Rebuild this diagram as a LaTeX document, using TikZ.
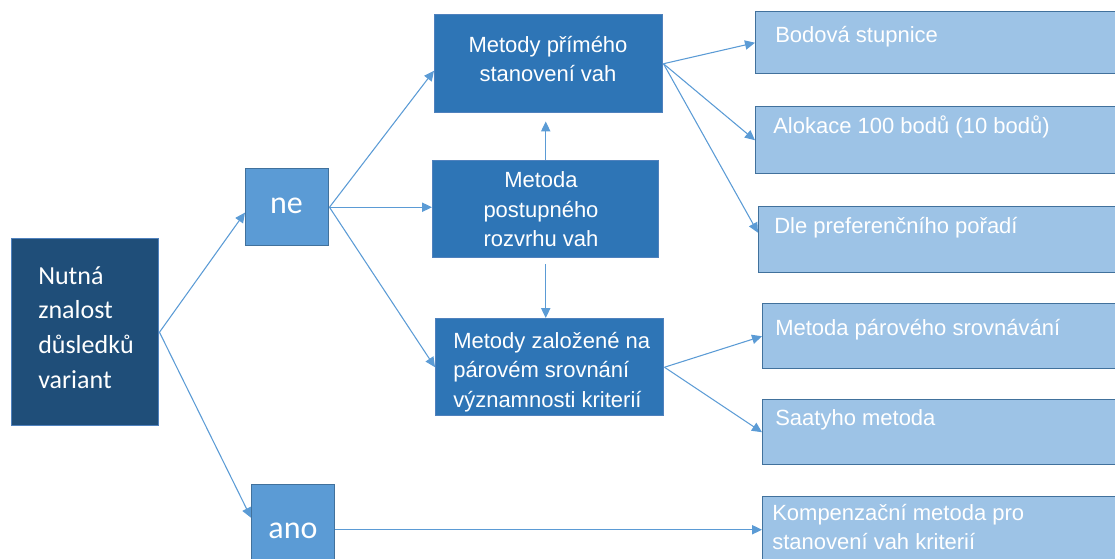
\documentclass[tikz,border=0pt]{standalone}
\usepackage{fontspec}
\setmainfont{Liberation Sans}
\newfontfamily\calfont{Carlito}
\usetikzlibrary{arrows.meta,calc}
\definecolor{dkblue}{HTML}{1F4E79}
\definecolor{midblue}{HTML}{2E75B6}
\definecolor{ltblue}{HTML}{5B9BD5}
\definecolor{paleblue}{HTML}{9DC3E6}
\definecolor{edgeA}{HTML}{41719C}
\definecolor{edgeB}{HTML}{4F81BD}
\definecolor{arrowblue}{HTML}{5B9BD5}
\begin{document}
\begin{tikzpicture}[x=0.75pt,y=-0.75pt,
  box/.style={rectangle, inner sep=0pt, anchor=north west, line width=1.1pt},
  dkbox/.style={box, fill=dkblue, draw=edgeB},
  midbox/.style={box, fill=midblue, draw=edgeB},
  ltbox/.style={box, fill=ltblue, draw=edgeA},
  palebox/.style={box, fill=paleblue, draw=edgeA},
  txt/.style={inner sep=0pt, text=white, font=\fontsize{16.5}{22.1}\selectfont},
  caltxt/.style={inner sep=0pt, text=white},
  arr/.style={draw=arrowblue, line width=0.8pt, -{Triangle[length=7.5pt,width=7pt]}}
]
\useasboundingbox (0,0) rectangle (1115,558);
\clip (0,0) rectangle (1115,558);

% boxes
\node[dkbox, minimum width=147*0.75pt, minimum height=187*0.75pt] (nut) at (11,238) {};
\node[ltbox, minimum width=83*0.75pt, minimum height=77*0.75pt] (ne) at (245,168) {};
\node[ltbox, minimum width=83*0.75pt, minimum height=90*0.75pt] (ano) at (251,484) {};
\node[midbox, minimum width=228*0.75pt, minimum height=98*0.75pt] (prime) at (434,14) {};
\node[midbox, minimum width=226*0.75pt, minimum height=97*0.75pt] (post) at (432,160) {};
\node[midbox, minimum width=228*0.75pt, minimum height=97*0.75pt] (zal) at (435,318) {};
\node[palebox, minimum width=380*0.75pt, minimum height=62*0.75pt] (bod) at (755,11) {};
\node[palebox, minimum width=380*0.75pt, minimum height=67*0.75pt] (alo) at (755,106) {};
\node[palebox, minimum width=380*0.75pt, minimum height=66*0.75pt] (dle) at (758,206) {};
\node[palebox, minimum width=380*0.75pt, minimum height=65*0.75pt] (par) at (762,303) {};
\node[palebox, minimum width=380*0.75pt, minimum height=65*0.75pt] (saa) at (762,399) {};
\node[palebox, minimum width=380*0.75pt, minimum height=80*0.75pt] (komp) at (762,496) {};

% texts
\node[caltxt, anchor=north west, align=left, font=\calfont\fontsize{19.5}{26}\selectfont] (nutT) at (38,266) {Nutná\\znalost\\důsledků\\variant};
\node[caltxt, anchor=base, font=\calfont\fontsize{24}{29}\selectfont] (neT) at (286.5,213) {ne};
\node[caltxt, anchor=base, font=\calfont\fontsize{24}{29}\selectfont] (anoT) at (293,538) {ano};
\node[txt, anchor=north, align=center] (primeT) at (548,35.7) {Metody přímého\\stanovení vah};
\node[txt, anchor=north, align=center] (postT) at (541,171.7) {Metoda\\postupného\\rozvrhu vah};
\node[txt, anchor=north west, align=left] (zalT) at (453,331.7) {Metody založené na\\párovém srovnání\\významnosti kriterií};
\node[txt, anchor=base west] (bodT) at (775,42) {Bodová stupnice};
\node[txt, anchor=base west] (aloT) at (773,133) {Alokace 100 bodů (10 bodů)};
\node[txt, anchor=base west] (dleT) at (774,233) {Dle preferenčního pořadí};
\node[txt, anchor=base west] (parT) at (775,335) {Metoda párového srovnávání};
\node[txt, anchor=base west] (saaT) at (775,425) {Saatyho metoda};
\node[txt, anchor=north west, align=left] (kompT) at (772,503.7) {Kompenzační metoda pro\\stanovení vah kriterií};

% connectors
\draw[arr] (nut.east) -- ([yshift=-4pt]ne.west);
\draw[arr] (nut.east) -- ([yshift=9pt]ano.west);
\draw[arr] (ne.east) -- ([yshift=-5.25pt]prime.west);
\draw[arr] (ne.east) -- (ne.east -| post.west);
\draw[arr] (ne.east) -- (zal.west);
\draw[arr, shorten >=6pt] (post.north) -- (post.north |- prime.south);
\draw[arr, shorten <=4.5pt] (post.south) -- (post.south |- zal.north);
\draw[arr] (prime.east) -- (bod.west);
\draw[arr] (prime.east) -- (alo.west);
\draw[arr] (prime.east) -- ([yshift=5.25pt]dle.west);
\draw[arr] (zal.east) -- (par.west);
\draw[arr] (zal.east) -- (saa.west);
\draw[arr] (ano.east) -- (ano.east -| komp.west);
\end{tikzpicture}
\end{document}
